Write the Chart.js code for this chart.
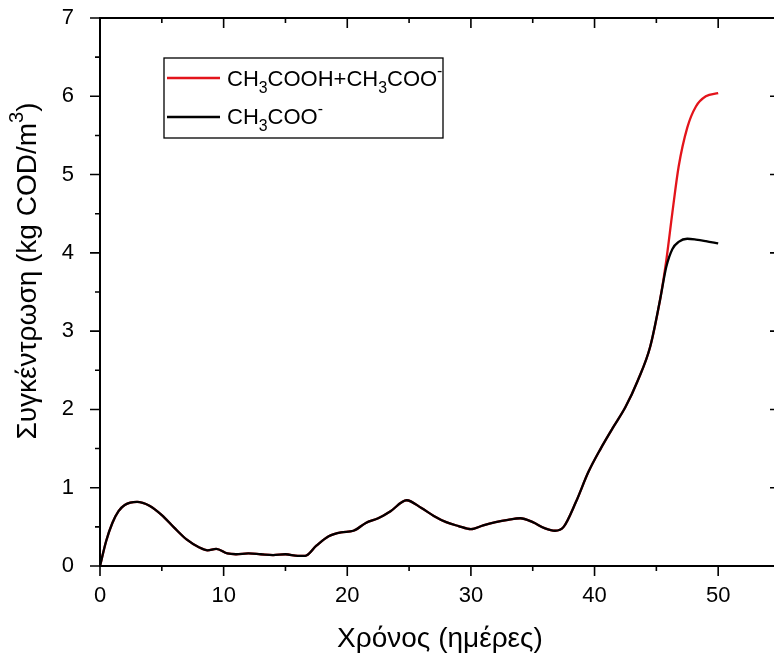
<!DOCTYPE html>
<html>
<head>
<meta charset="utf-8">
<script src="https://cdn.jsdelivr.net/npm/chart.js@4.4.0/dist/chart.umd.min.js"></script>
<style>
html,body{margin:0;padding:0;background:#fff;overflow:hidden;}
#wrap{width:800px;height:654px;}
</style>
</head>
<body>
<div id="wrap"><canvas id="c" width="800" height="654"></canvas></div>
<script>
// time in days
const days = [0,0.5,1,1.5,2,3,4,5,6,7,8,8.7,9.4,10.3,11,12,13,14,15,16,16.6,17.5,18.5,19.5,20.5,21.5,22.5,23.5,24.8,26,27,28,29,30,31,32,33,34,35,36,36.8,37.5,38.5,39.5,40.5,41.5,42.5,43.5,44.5,45.3,45.8,46.3,46.8,47.5,48.2,49,50];
// CH3COO- (black)
const acetate = [0,0.32,0.55,0.70,0.78,0.82,0.77,0.65,0.49,0.34,0.24,0.20,0.22,0.16,0.15,0.16,0.15,0.14,0.15,0.13,0.13,0.26,0.38,0.43,0.45,0.55,0.61,0.70,0.84,0.74,0.64,0.56,0.51,0.47,0.52,0.56,0.59,0.61,0.56,0.48,0.45,0.50,0.82,1.20,1.50,1.77,2.03,2.37,2.80,3.40,3.82,4.05,4.14,4.18,4.17,4.15,4.12];
// CH3COOH + CH3COO- (red)
const totalAcid = [0,0.32,0.55,0.70,0.78,0.82,0.77,0.65,0.49,0.34,0.24,0.20,0.22,0.16,0.15,0.16,0.15,0.14,0.15,0.13,0.13,0.26,0.38,0.43,0.45,0.55,0.61,0.70,0.84,0.74,0.64,0.56,0.51,0.47,0.52,0.56,0.59,0.61,0.56,0.48,0.45,0.50,0.82,1.20,1.50,1.77,2.03,2.37,2.80,3.40,3.90,4.52,5.10,5.60,5.87,6.00,6.04];

const xTicks = [0,10,20,30,40,50];
const xMinor = [5,15,25,35,45,55];
const yTicks = [0,1,2,3,4,5,6,7];
const yMinor = [0.5,1.5,2.5,3.5,4.5,5.5,6.5];

// legend / titles as rich text pieces
const nameTotal = [{t:'CH'},{t:'3',sub:true},{t:'COOH+CH'},{t:'3',sub:true},{t:'COO'},{t:'-',sup:true}];
const nameAcetate = [{t:'CH'},{t:'3',sub:true},{t:'COO'},{t:'-',sup:true}];
const xTitle = [{t:'Χρόνος (ημέρες)'}];
const yTitle = [{t:'Συγκέντρωση (kg COD/m'},{t:'3',sup:true},{t:')'}];

const FONT = '"Liberation Sans", Arial, sans-serif';
const RED = '#e3141b';

function partFont(p, size){
  let fs = size, dy = 0;
  if (p.sub) { fs = size*0.72; dy = size*0.32; }
  if (p.sup) { fs = size*0.72; dy = -size*0.45; }
  return [fs, dy];
}
function richWidth(ctx, parts, size){
  let w = 0;
  for (const p of parts) { const [fs] = partFont(p,size); ctx.font = fs+'px '+FONT; w += ctx.measureText(p.t).width; }
  return w;
}
function richText(ctx, parts, x, y, size){
  ctx.textAlign = 'left'; ctx.textBaseline = 'alphabetic';
  for (const p of parts) {
    const [fs, dy] = partFont(p,size);
    ctx.font = fs+'px '+FONT;
    ctx.fillText(p.t, x, y+dy);
    x += ctx.measureText(p.t).width;
  }
}

const decor = {
  id:'decor',
  afterDraw(chart){
    const {ctx, chartArea:a, scales:{x,y}} = chart;
    ctx.save();
    ctx.strokeStyle = '#000';
    ctx.lineWidth = 2;
    ctx.strokeRect(a.left, a.top, a.right-a.left, a.bottom-a.top);
    ctx.lineWidth = 1.6;
    ctx.beginPath();
    // x ticks: bottom outward, top inward
    for (const v of xTicks.concat(xMinor)) {
      const len = xTicks.includes(v) ? 10 : 5;
      const px = x.getPixelForValue(v);
      ctx.moveTo(px, a.bottom); ctx.lineTo(px, a.bottom+len);
      ctx.moveTo(px, a.top); ctx.lineTo(px, a.top+len);
    }
    // y ticks: left outward, right inward
    for (const v of yTicks.concat(yMinor)) {
      const len = yTicks.includes(v) ? 10 : 5;
      const py = y.getPixelForValue(v);
      ctx.moveTo(a.left, py); ctx.lineTo(a.left-len, py);
      ctx.moveTo(a.right, py); ctx.lineTo(a.right-len, py);
    }
    ctx.stroke();

    // legend
    ctx.lineWidth = 1.3;
    ctx.strokeRect(164, 58, 279, 80);
    ctx.lineWidth = 2.3;
    ctx.strokeStyle = RED;
    ctx.beginPath(); ctx.moveTo(167, 78); ctx.lineTo(220, 78); ctx.stroke();
    ctx.strokeStyle = '#000';
    ctx.beginPath(); ctx.moveTo(167, 117); ctx.lineTo(220, 117); ctx.stroke();
    ctx.fillStyle = '#000';
    richText(ctx, nameTotal, 227, 86, 22);
    richText(ctx, nameAcetate, 227, 124, 22);

    // axis titles
    const xc = (a.left + a.right)/2;
    const wx = richWidth(ctx, xTitle, 28);
    richText(ctx, xTitle, xc - wx/2, 647, 28);
    const wy = richWidth(ctx, yTitle, 28);
    ctx.translate(36, 271);
    ctx.rotate(-Math.PI/2);
    richText(ctx, yTitle, -wy/2, 0, 28);
    ctx.restore();
  }
};

const tickFont = {size:22, family:FONT};

new Chart(document.getElementById('c'), {
  type:'line',
  data:{
    datasets:[
      {label:'CH3COO-', data: days.map((d,i)=>({x:d, y:acetate[i]})), borderColor:'#000', borderWidth:2.3, pointRadius:0, cubicInterpolationMode:'monotone', order:0},
      {label:'CH3COOH+CH3COO-', data: days.map((d,i)=>({x:d, y:totalAcid[i]})), borderColor:RED, borderWidth:2.3, pointRadius:0, cubicInterpolationMode:'monotone', order:1}
    ]
  },
  options:{
    responsive:false,
    animation:false,
    layout:{padding:{top:18, right:20, left:0, bottom:0}},
    plugins:{legend:{display:false}, tooltip:{enabled:false}},
    scales:{
      x:{
        type:'linear', min:0, max:55,
        grid:{display:false}, border:{display:false},
        afterBuildTicks(s){ s.ticks = xTicks.map(v=>({value:v})); },
        afterFit(s){ s.height = 88; s.paddingLeft = 0; s.paddingRight = 0; },
        ticks:{padding:9, color:'#000', font:tickFont, maxRotation:0}
      },
      y:{
        min:0, max:7,
        grid:{display:false}, border:{display:false},
        afterBuildTicks(s){ s.ticks = yTicks.map(v=>({value:v})); },
        afterFit(s){ s.width = 100; s.paddingTop = 0; s.paddingBottom = 0; },
        ticks:{padding:18, color:'#000', font:tickFont}
      }
    }
  },
  plugins:[decor]
});
</script>
</body>
</html>
